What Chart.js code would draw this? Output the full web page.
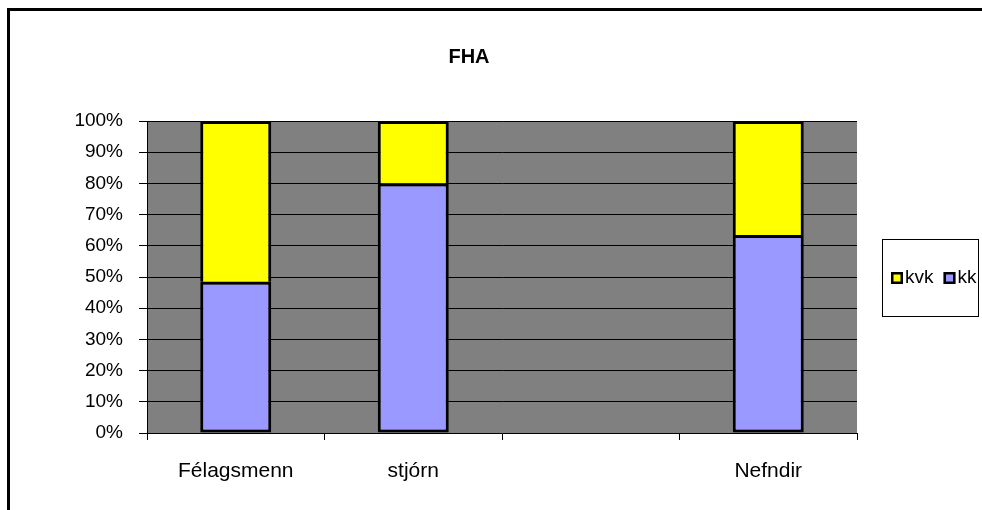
<!DOCTYPE html>
<html>
<head>
<meta charset="utf-8">
<script src="https://cdn.jsdelivr.net/npm/chart.js@4/dist/chart.umd.min.js"></script>
<style>
  html, body { margin: 0; padding: 0; background: #fff; overflow: hidden; }
  #wrap { position: relative; width: 982px; height: 510px; overflow: hidden; }
  #frame { position: absolute; left: 7px; top: 8px; width: 2000px; height: 2000px; border: 3px solid #000; box-sizing: border-box; pointer-events: none; }
  canvas { position: absolute; left: 0; top: 0; }
</style>
</head>
<body>
<div id="wrap">
  <canvas id="c" width="982" height="510"></canvas>
  <div id="frame"></div>
</div>
<script>
const categories = ['Félagsmenn', 'stjórn', '', 'Nefndir'];
const kk = [48.5, 80, null, 63.5];
const kvk = [51.5, 20, null, 36.5];
const yTicks = [0, 10, 20, 30, 40, 50, 60, 70, 80, 90, 100];
const chartTitle = 'FHA';

const FONT = '"Liberation Sans", Arial, sans-serif';

const bgPlugin = {
  id: 'plotBg',
  beforeDraw(chart) {
    const { ctx, chartArea: a } = chart;
    ctx.save();
    ctx.fillStyle = '#808080';
    ctx.fillRect(a.left, a.top, a.right - a.left, a.bottom - a.top);
    ctx.restore();
  }
};

const titlePlugin = {
  id: 'customTitle',
  afterDraw(chart) {
    const ctx = chart.ctx;
    ctx.save();
    ctx.font = 'bold 20px ' + FONT;
    ctx.fillStyle = '#000';
    ctx.textAlign = 'center';
    ctx.textBaseline = 'middle';
    ctx.fillText(chartTitle, 469, 57);
    ctx.restore();
  }
};

const legendPlugin = {
  id: 'boxLegend',
  afterDraw(chart) {
    const ctx = chart.ctx;
    const bx = 882, by = 239, bw = 96, bh = 77;
    ctx.save();
    ctx.fillStyle = '#fff';
    ctx.fillRect(bx, by, bw, bh);
    ctx.strokeStyle = '#000';
    ctx.lineWidth = 1;
    ctx.strokeRect(bx + 0.5, by + 0.5, bw, bh);
    ctx.font = '19px ' + FONT;
    ctx.textBaseline = 'middle';
    ctx.textAlign = 'left';
    const items = chart.data.datasets.slice().reverse();
    let x = 891;
    const cy = 278;
    items.forEach(ds => {
      ctx.fillStyle = ds.backgroundColor;
      ctx.fillRect(x, cy - 6, 12, 12);
      ctx.lineWidth = 2.5;
      ctx.strokeStyle = '#000';
      ctx.strokeRect(x + 1.25, cy - 4.75, 9.5, 9.5);
      ctx.fillStyle = '#000';
      ctx.fillText(ds.label, x + 14, cy);
      x += 14 + ctx.measureText(ds.label).width + 10;
    });
    ctx.restore();
  }
};

new Chart(document.getElementById('c'), {
  type: 'bar',
  data: {
    labels: categories,
    datasets: [
      { label: 'kk', data: kk, backgroundColor: '#9999FF', borderColor: '#000', borderWidth: 3, borderSkipped: false },
      { label: 'kvk', data: kvk, backgroundColor: '#FFFF00', borderColor: '#000', borderWidth: 3, borderSkipped: 'bottom' }
    ]
  },
  options: {
    responsive: false,
    animation: false,
    events: [],
    layout: { padding: { left: 0, top: 121, right: 125, bottom: 0 } },
    datasets: { bar: { barPercentage: 0.4, categoryPercentage: 1.0 } },
    plugins: { legend: { display: false }, title: { display: false }, tooltip: { enabled: false } },
    scales: {
      x: {
        stacked: true,
        offset: true,
        grid: { offset: true, drawOnChartArea: false, color: '#000', tickLength: 7, lineWidth: 1 },
        border: { color: '#000', width: 1 },
        ticks: { color: '#000', font: { family: FONT, size: 21 }, padding: 19, maxRotation: 0, autoSkip: false },
        afterFit(s) { s.height = 77; }
      },
      y: {
        stacked: true,
        min: 0,
        max: 100,
        afterBuildTicks(s) { s.ticks = yTicks.map(v => ({ value: v })); },
        grid: { color: '#000', lineWidth: 1, tickLength: 8 },
        border: { color: '#000', width: 1 },
        ticks: { color: '#000', font: { family: FONT, size: 19 }, padding: 16, callback: v => v + '%' },
        afterFit(s) { s.width = 147; }
      }
    }
  },
  plugins: [bgPlugin, titlePlugin, legendPlugin]
});
</script>
</body>
</html>
